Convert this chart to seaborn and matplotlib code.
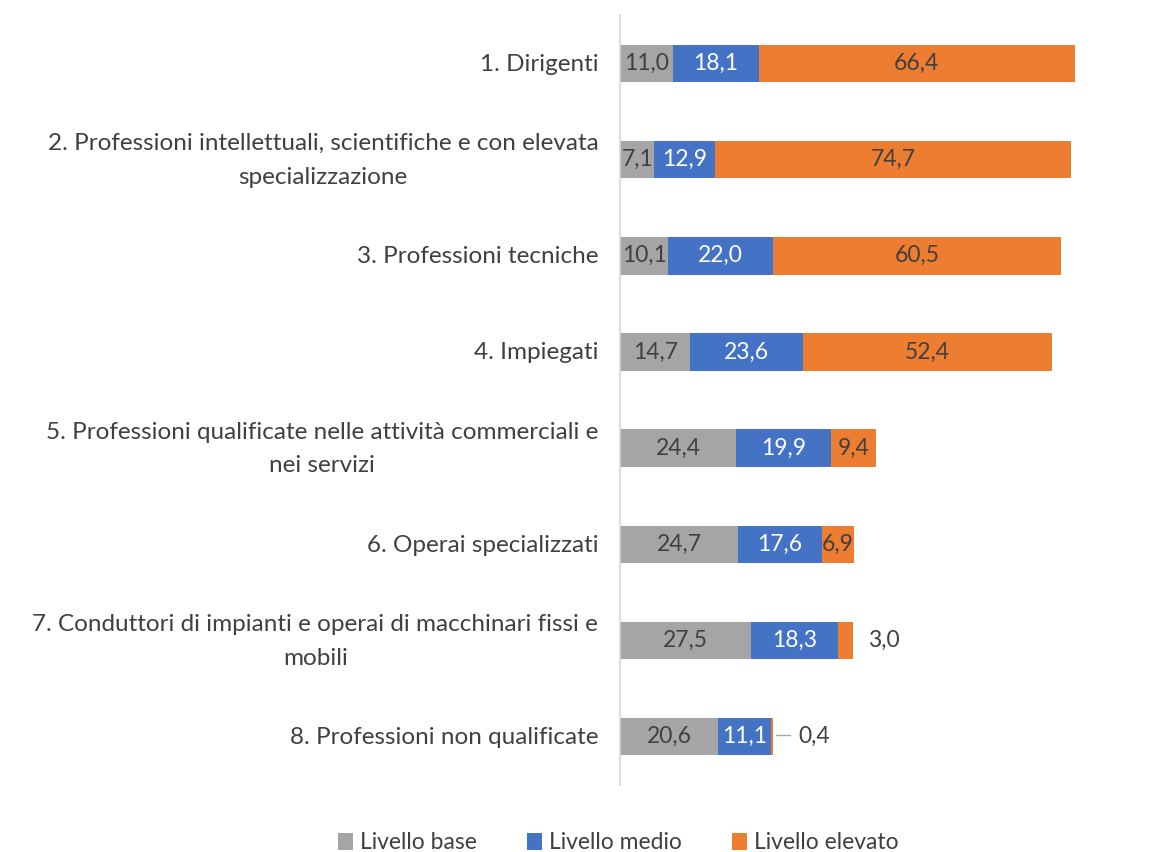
import numpy as np
import pandas as pd
import matplotlib
matplotlib.use("Agg")
import matplotlib.pyplot as plt
import matplotlib.transforms as mtrans
import seaborn as sns
from matplotlib.patches import Patch

categories = [
    "1. Dirigenti",
    "2. Professioni intellettuali, scientifiche e con elevata\nspecializzazione",
    "3. Professioni tecniche",
    "4. Impiegati",
    "5. Professioni qualificate nelle attività commerciali e\nnei servizi",
    "6. Operai specializzati",
    "7. Conduttori di impianti e operai di macchinari fissi e\nmobili",
    "8. Professioni non qualificate",
]
livello_base = [11.0, 7.1, 10.1, 14.7, 24.4, 24.7, 27.5, 20.6]
livello_medio = [18.1, 12.9, 22.0, 23.6, 19.9, 17.6, 18.3, 11.1]
livello_elevato = [66.4, 74.7, 60.5, 52.4, 9.4, 6.9, 3.0, 0.4]
series_names = ["Livello base", "Livello medio", "Livello elevato"]
colors = ["#A5A5A5", "#4472C4", "#ED7D31"]
text_colors = ["#404040", "white", "#404040"]

sns.set_theme(style="white")
plt.rcParams["font.family"] = ["Lato", "DejaVu Sans"]

df = pd.DataFrame({"cat": categories, "base": livello_base,
                   "medio": livello_medio, "elevato": livello_elevato})
df["c1"] = df["base"]
df["c2"] = df["base"] + df["medio"]
df["c3"] = df["c2"] + df["elevato"]

fig = plt.figure(figsize=(11.53, 8.52), dpi=100)
ax = fig.add_axes([0.538, 0.079, 0.454, 0.903])

for col, color in zip(["c3", "c2", "c1"], colors[::-1]):
    sns.barplot(data=df, y="cat", x=col, orient="h", color=color,
                width=0.39, ax=ax, saturation=1, linewidth=0)

ax.set_xlim(0, 110)
ax.set_ylim(7.5, -0.5)
ax.set_xlabel("")
ax.set_ylabel("")
ax.set_xticks([])
ax.set_yticks(range(len(categories)))
ax.set_yticklabels([])
for sp in ["top", "right", "bottom"]:
    ax.spines[sp].set_visible(False)
ax.spines["left"].set_color("#D9D9D9")
ax.spines["left"].set_linewidth(1.2)
ax.tick_params(axis="y", length=0, pad=0)
ax.set_yticks(np.arange(-0.5, 8.0, 1.0), minor=True)
ax.tick_params(axis="y", which="minor", length=6, color="#D9D9D9",
               width=1.2, direction="out")

# category labels: right-aligned block, lines centred
trans = ax.get_yaxis_transform() + mtrans.ScaledTranslation(-22 / 100, -1 / 100, fig.dpi_scale_trans)
for i, cat in enumerate(categories):
    ax.text(0, i, cat, transform=trans, ha="right", va="center",
            multialignment="center", fontsize=17.5, color="#404040",
            linespacing=1.75)

# value labels
vals = [livello_base, livello_medio, livello_elevato]
for i in range(len(categories)):
    left = 0.0
    for s in range(3):
        v = vals[s][i]
        txt = f"{v:.1f}".replace(".", ",")
        if v >= 5:
            ax.text(left + v / 2, i, txt, ha="center", va="center",
                    fontsize=16.5, color=text_colors[s])
        elif v >= 1:
            ax.text(left + v + 3.2, i, txt, ha="left", va="center",
                    fontsize=16.5, color="#404040")
        else:
            end = left + v
            ax.plot([end + 0.6, end + 3.6], [i - 0.02, i - 0.02],
                    color="#A6A6A6", lw=1)
            ax.text(end + 5.3, i, txt, ha="left", va="center",
                    fontsize=16.5, color="#404040")
        left += v

handles = [Patch(facecolor=c, edgecolor="none", label=n)
           for c, n in zip(colors, series_names)]
fig.legend(handles=handles, loc="center", bbox_to_anchor=(0.536, 0.011),
           ncol=3, frameon=False, fontsize=16.5, handlelength=0.65,
           handleheight=0.75, handletextpad=0.3, columnspacing=2.2,
           labelcolor="#404040")

fig.savefig("out.png", dpi=100, facecolor="white")
